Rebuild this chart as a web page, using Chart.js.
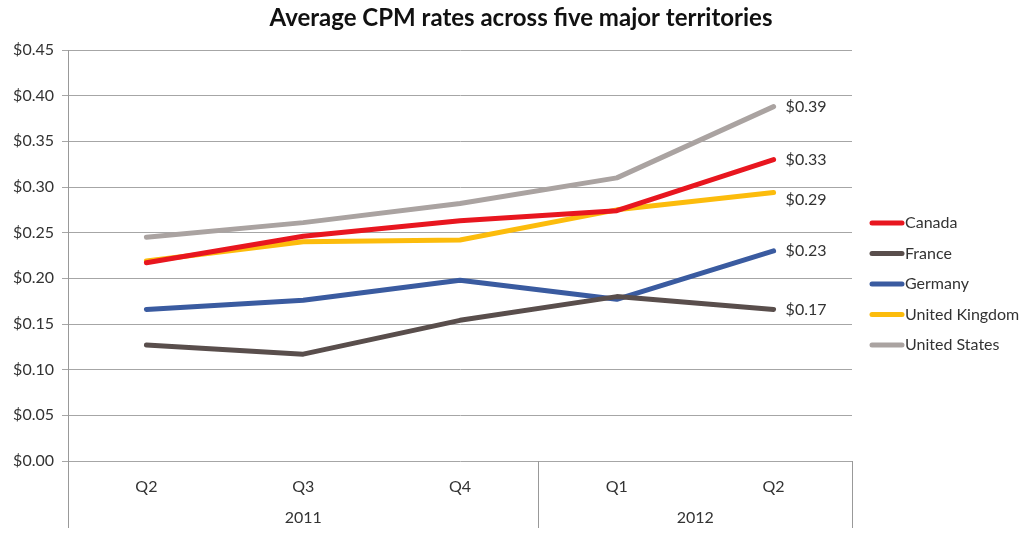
<!DOCTYPE html>
<html>
<head>
<meta charset="utf-8">
<script src="https://cdn.jsdelivr.net/npm/chart.js@4"></script>
<style>
  html, body { margin: 0; padding: 0; background: #fff; }
  #wrap { width: 1024px; height: 547px; }
</style>
</head>
<body>
<div id="wrap"><canvas id="cpmChart"></canvas></div>
<script>
// Chart data
const quarters = ['Q2', 'Q3', 'Q4', 'Q1', 'Q2'];
const years = ['2011', '2012'];
const yearSpans = [3, 2]; // number of quarters per year
const seriesNames = ['Canada', 'France', 'Germany', 'United Kingdom', 'United States'];
const canada = [0.217, 0.246, 0.263, 0.274, 0.330];
const france = [0.127, 0.117, 0.154, 0.180, 0.166];
const germany = [0.166, 0.176, 0.198, 0.177, 0.230];
const unitedKingdom = [0.219, 0.240, 0.242, 0.275, 0.294];
const unitedStates = [0.245, 0.261, 0.282, 0.310, 0.388];
const yTicks = [0, 0.05, 0.10, 0.15, 0.20, 0.25, 0.30, 0.35, 0.40, 0.45];
const chartTitle = 'Average CPM rates across five major territories';

const colors = ['#e8161f', '#594e4c', '#3a5ba0', '#fcbc0c', '#aaa3a1'];
const labelNudge = [0, 0, 0, 7, 0]; // keep the UK label clear of the line
const values = [canada, france, germany, unitedKingdom, unitedStates];
const fontFamily = 'Lato, "Open Sans", sans-serif';
const textColor = '#333';

// Title centred on the whole picture
const pageTitle = {
    id: 'pageTitle',
    afterDraw(chart) {
        const ctx = chart.ctx;
        ctx.save();
        ctx.fillStyle = '#111';
        ctx.font = 'bold 24px ' + fontFamily;
        ctx.textAlign = 'center';
        ctx.textBaseline = 'middle';
        ctx.fillText(chartTitle, 521, 18);
        ctx.restore();
    }
};

// Year row + category separators under the x axis
const yearGroups = {
    id: 'yearGroups',
    afterDraw(chart) {
        const ctx = chart.ctx;
        const x = chart.scales.x;
        const area = chart.chartArea;
        const step = x.getPixelForValue(1) - x.getPixelForValue(0);
        const bottom = area.bottom + 67;
        ctx.save();
        ctx.strokeStyle = '#999';
        ctx.lineWidth = 1;
        let start = 0;
        let edges = [x.getPixelForValue(0) - step / 2];
        yearSpans.forEach(n => {
            start += n;
            edges.push(x.getPixelForValue(start - 1) + step / 2);
        });
        edges.forEach(px => {
            ctx.beginPath();
            ctx.moveTo(Math.round(px) + 0.5, area.bottom);
            ctx.lineTo(Math.round(px) + 0.5, bottom);
            ctx.stroke();
        });
        ctx.fillStyle = textColor;
        ctx.font = '16px ' + fontFamily;
        ctx.textAlign = 'center';
        ctx.textBaseline = 'middle';
        years.forEach((y, i) => {
            ctx.fillText(y, (edges[i] + edges[i + 1]) / 2, area.bottom + 57);
        });
        ctx.restore();
    }
};

// Value labels at the last point of every line
const endLabels = {
    id: 'endLabels',
    afterDatasetsDraw(chart) {
        const ctx = chart.ctx;
        ctx.save();
        ctx.fillStyle = textColor;
        ctx.font = '16px ' + fontFamily;
        ctx.textAlign = 'left';
        ctx.textBaseline = 'middle';
        chart.data.datasets.forEach((ds, i) => {
            const meta = chart.getDatasetMeta(i);
            const pt = meta.data[meta.data.length - 1];
            const v = ds.data[ds.data.length - 1];
            ctx.fillText('$' + v.toFixed(2), pt.x + 12, pt.y + labelNudge[i]);
        });
        ctx.restore();
    }
};

// Legend on the right side
const sideLegend = {
    id: 'sideLegend',
    afterDraw(chart) {
        const ctx = chart.ctx;
        const x0 = 870;
        const y0 = 223;
        const gap = 30.5;
        ctx.save();
        ctx.font = '16px ' + fontFamily;
        ctx.textBaseline = 'middle';
        chart.data.datasets.forEach((ds, i) => {
            const y = y0 + i * gap;
            ctx.strokeStyle = ds.borderColor;
            ctx.lineWidth = 5;
            ctx.lineCap = 'round';
            ctx.beginPath();
            ctx.moveTo(x0 + 2, y);
            ctx.lineTo(x0 + 32, y);
            ctx.stroke();
            ctx.fillStyle = textColor;
            ctx.fillText(ds.label, x0 + 35, y);
        });
        ctx.restore();
    }
};

new Chart(document.getElementById('cpmChart'), {
    type: 'line',
    data: {
        labels: quarters,
        datasets: seriesNames.map((name, i) => ({
            label: name,
            data: values[i],
            borderColor: colors[i],
            backgroundColor: colors[i],
            borderWidth: 5,
            pointRadius: 0,
            tension: 0,
            borderCapStyle: 'round',
            borderJoinStyle: 'round'
        }))
    },
    options: {
        responsive: true,
        maintainAspectRatio: false,
        animation: false,
        layout: { padding: { left: 0, right: 172, top: 50, bottom: 0 } },
        plugins: {
            legend: { display: false },
            tooltip: { enabled: false },
            title: { display: false }
        },
        scales: {
            x: {
                offset: true,
                grid: { display: false, offset: true },
                border: { display: false },
                ticks: { color: textColor, font: { family: fontFamily, size: 16 }, padding: 8, maxRotation: 0 },
                afterFit(scale) { scale.height = 86; }
            },
            y: {
                min: 0,
                max: 0.45,
                afterBuildTicks(scale) { scale.ticks = yTicks.map(v => ({ value: v })); },
                grid: { color: '#a6a6a6', lineWidth: 1, tickLength: 6 },
                border: { display: true, color: '#999' },
                ticks: {
                    color: textColor,
                    font: { family: fontFamily, size: 16 },
                    padding: 8,
                    callback: v => '$' + v.toFixed(2)
                },
                afterFit(scale) { scale.width = 68; }
            }
        }
    },
    plugins: [pageTitle, yearGroups, endLabels, sideLegend]
});
</script>
</body>
</html>
